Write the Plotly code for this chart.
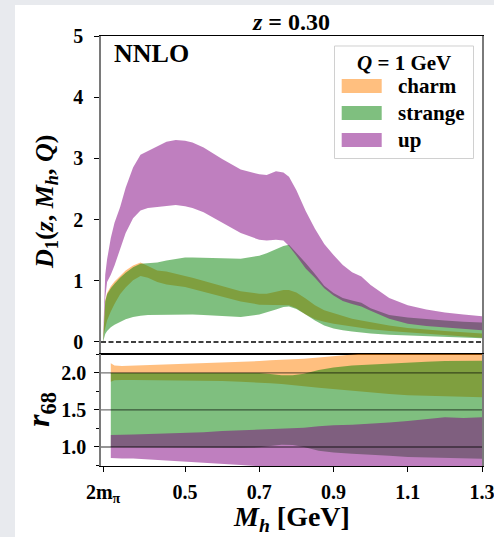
import plotly.graph_objects as go

# ---------------- D1(z, Mh, Q) at z = 0.30, Q = 1 GeV : 68% bands ----------------
mh = [0.279, 0.282, 0.285, 0.29, 0.30, 0.31, 0.325, 0.34, 0.36, 0.38, 0.40, 0.425,
      0.45, 0.475, 0.50, 0.52, 0.55, 0.60, 0.65, 0.70, 0.72, 0.745, 0.765, 0.78,
      0.80, 0.825, 0.85, 0.875, 0.90, 0.925, 0.95, 0.975, 1.00, 1.05, 1.10, 1.15,
      1.20, 1.25, 1.30]

charm_hi = [0.0, 0.47, 0.68, 0.80, 0.91, 0.99, 1.08, 1.17, 1.25, 1.30, 1.24, 1.17,
            1.15, 1.12, 1.08, 1.05, 1.00, 0.91, 0.83, 0.79, 0.79, 0.82, 0.85, 0.85,
            0.81, 0.71, 0.60, 0.52, 0.47, 0.42, 0.38, 0.35, 0.32, 0.27, 0.23, 0.20,
            0.18, 0.16, 0.14]
charm_lo = [0.0, 0.15, 0.25, 0.35, 0.50, 0.62, 0.78, 0.89, 1.01, 1.08, 1.05, 0.98,
            0.94, 0.92, 0.90, 0.87, 0.82, 0.74, 0.66, 0.61, 0.60, 0.60, 0.60, 0.60,
            0.55, 0.45, 0.37, 0.33, 0.30, 0.27, 0.25, 0.23, 0.21, 0.18, 0.15, 0.13,
            0.11, 0.09, 0.07]

strange_hi = [0.0, 0.45, 0.66, 0.78, 0.88, 0.95, 1.05, 1.13, 1.22, 1.28, 1.29, 1.30,
              1.33, 1.36, 1.38, 1.38, 1.38, 1.37, 1.36, 1.41, 1.45, 1.52, 1.57, 1.59,
              1.46, 1.29, 1.11, 0.92, 0.80, 0.72, 0.68, 0.64, 0.55, 0.44, 0.40, 0.37,
              0.35, 0.33, 0.32]
strange_lo = [0.0, 0.08, 0.13, 0.18, 0.24, 0.28, 0.33, 0.37, 0.41, 0.43, 0.44, 0.445,
              0.45, 0.45, 0.45, 0.45, 0.44, 0.42, 0.41, 0.45, 0.48, 0.53, 0.57, 0.58,
              0.54, 0.45, 0.35, 0.27, 0.22, 0.19, 0.17, 0.15, 0.14, 0.12, 0.10, 0.09,
              0.08, 0.07, 0.06]

up_hi = [0.0, 0.75, 1.10, 1.35, 1.70, 1.95, 2.20, 2.52, 2.85, 3.06, 3.12, 3.19,
         3.27, 3.30, 3.29, 3.26, 3.18, 2.99, 2.82, 2.74, 2.73, 2.79, 2.77, 2.70,
         2.48, 2.14, 1.85, 1.60, 1.42, 1.26, 1.14, 1.07, 0.93, 0.72, 0.60, 0.53,
         0.48, 0.45, 0.42]
up_lo = [0.0, 0.40, 0.72, 0.98, 1.10, 1.25, 1.50, 1.78, 2.02, 2.15, 2.19, 2.20,
         2.22, 2.24, 2.22, 2.19, 2.12, 1.95, 1.78, 1.67, 1.66, 1.67, 1.66, 1.57,
         1.41, 1.20, 1.05, 0.88, 0.76, 0.67, 0.62, 0.58, 0.51, 0.38, 0.30, 0.26,
         0.23, 0.21, 0.19]

# ---------------- r68 : relative width of the 68% bands ----------------
mh_r = [0.30, 0.31, 0.33, 0.36, 0.40, 0.45, 0.50, 0.55, 0.60, 0.65, 0.70, 0.73, 0.76,
        0.79, 0.82, 0.86, 0.90, 0.95, 1.00, 1.05, 1.10, 1.15, 1.20, 1.25, 1.30]

charm_r_hi = [2.13, 2.10, 2.095, 2.10, 2.10, 2.11, 2.12, 2.13, 2.14, 2.15, 2.16, 2.17,
              2.175, 2.18, 2.19, 2.21, 2.23, 2.25, 2.27, 2.29, 2.30, 2.30, 2.30, 2.30, 2.30]
charm_r_lo = [1.88, 1.90, 1.905, 1.905, 1.905, 1.905, 1.90, 1.895, 1.89, 1.88, 1.87, 1.86,
              1.85, 1.84, 1.82, 1.80, 1.78, 1.755, 1.735, 1.715, 1.70, 1.69, 1.685, 1.675, 1.67]
strange_r_hi = [2.0, 2.0, 2.0, 2.0, 2.0, 2.005, 2.01, 2.01, 2.01, 2.01, 2.0, 1.985,
                1.97, 1.97, 1.99, 2.04, 2.075, 2.10, 2.115, 2.13, 2.14, 2.15, 2.16, 2.165, 2.165]
strange_r_lo = [1.0, 1.0, 1.0, 1.0, 1.0, 1.0, 0.995, 0.99, 0.99, 0.99, 0.995, 1.01,
                1.03, 1.025, 1.0, 0.95, 0.925, 0.91, 0.90, 0.88, 0.865, 0.855, 0.85, 0.845, 0.84]
up_r_hi = [1.16, 1.165, 1.165, 1.17, 1.175, 1.185, 1.19, 1.20, 1.215, 1.225, 1.24, 1.245,
           1.25, 1.255, 1.26, 1.28, 1.295, 1.30, 1.31, 1.33, 1.35, 1.37, 1.40, 1.39, 1.40]
up_r_lo = [0.85, 0.85, 0.845, 0.845, 0.84, 0.82, 0.80, 0.79, 0.77, 0.755, 0.74, 0.73,
           0.73, 0.73, 0.73, 0.73, 0.73, 0.73, 0.73, 0.73, 0.73, 0.73, 0.73, 0.73, 0.73]

flavours = ["charm", "strange", "up"]
colors = {"charm": "rgba(255,128,0,0.5)",
          "strange": "rgba(0,128,0,0.5)",
          "up": "rgba(128,0,128,0.5)"}

x_tickvals = [0.2792, 0.5, 0.7, 0.9, 1.1, 1.3]
x_ticktext = ["2m<sub>π</sub>", "0.5", "0.7", "0.9", "1.1", "1.3"]
y_tickvals = [0, 1, 2, 3, 4, 5]
r_tickvals = [1.0, 1.5, 2.0]
r_ticktext = ["1.0", "1.5", "2.0"]

top_bands = {"charm": (charm_lo, charm_hi),
             "strange": (strange_lo, strange_hi),
             "up": (up_lo, up_hi)}
ratio_bands = {"charm": (charm_r_lo, charm_r_hi),
               "strange": (strange_r_lo, strange_r_hi),
               "up": (up_r_lo, up_r_hi)}

FONT = "Liberation Serif"
fig = go.Figure()


def band(x, lo, hi, color, xa, ya, name):
    return go.Scatter(x=list(x) + list(x)[::-1], y=list(hi) + list(lo)[::-1],
                      fill="toself", fillcolor=color, mode="lines",
                      line=dict(width=0, color=color), hoverinfo="skip",
                      showlegend=False, name=name, xaxis=xa, yaxis=ya)


for f in flavours:
    lo, hi = top_bands[f]
    fig.add_trace(band(mh, lo, hi, colors[f], "x", "y", f))
for f in flavours:
    lo, hi = ratio_bands[f]
    fig.add_trace(band(mh_r, lo, hi, colors[f], "x2", "y2", f))

XR = [0.2736, 1.3]
split = 0.2605
tickfont = dict(family=FONT, size=20, color="black", weight="bold")

fig.update_layout(
    width=494, height=537,
    margin=dict(l=101, r=12, t=36, b=71, pad=0, autoexpand=False),
    paper_bgcolor="#e8eaee", plot_bgcolor="white",
    font=dict(family=FONT, color="black", weight="bold"),
    showlegend=False,
    title=dict(text="<i>z</i> = 0.30", x=0.5, xref="paper", xanchor="center",
               y=1 - 22 / 537, yref="container", yanchor="middle",
               font=dict(family=FONT, size=24, color="black", weight="bold")),
    xaxis=dict(domain=[0, 1], anchor="y", range=XR, showticklabels=False, ticks="",
               showline=True, mirror=True, linecolor="black", linewidth=1.2,
               showgrid=False, zeroline=False, automargin=False),
    yaxis=dict(domain=[split, 1], anchor="x", range=[-0.196, 5], tickvals=y_tickvals,
               ticks="outside", ticklen=5, tickwidth=1.3, tickcolor="black",
               ticklabelstandoff=7, tickfont=tickfont, automargin=False,
               ticklabeloverflow="allow",
               showline=True, mirror=True, linecolor="#7a7a7a", linewidth=1.6,
               showgrid=False, zeroline=False),
    xaxis2=dict(domain=[0, 1], anchor="y2", range=XR, tickvals=x_tickvals,
                ticktext=x_ticktext, ticks="outside", ticklen=5, tickwidth=1.3,
                tickcolor="black", ticklabelstandoff=3, tickfont=tickfont,
                ticklabeloverflow="allow",
                showline=True, mirror=True, linecolor="black", linewidth=1.2,
                showgrid=False, zeroline=False, automargin=False),
    yaxis2=dict(domain=[0, split], anchor="x2", range=[0.743, 2.256],
                tickvals=r_tickvals, ticktext=r_ticktext, ticks="outside",
                ticklen=5, tickwidth=1.3, tickcolor="black", ticklabelstandoff=4,
                tickfont=tickfont, automargin=False, ticklabeloverflow="allow",
                minor=dict(tickvals=[0.75, 1.25, 1.75, 2.25], ticks="outside",
                           ticklen=3, tickwidth=1, tickcolor="black"),
                showline=True, mirror=True, linecolor="#7a7a7a", linewidth=1.6,
                showgrid=False, zeroline=False),
)

shapes = []
# white card behind the figure
shapes.append(dict(type="rect", xref="paper", yref="paper",
                   x0=(15 - 101) / 381, x1=(494 - 101) / 381,
                   y0=(466 - 537) / 430, y1=(466 - 5) / 430,
                   fillcolor="white", line=dict(width=0), layer="below"))
# zero reference in the upper panel
shapes.append(dict(type="line", xref="x domain", yref="y", x0=0, x1=1, y0=0, y1=0,
                   line=dict(color="black", width=1.3, dash="5px,2.5px"), layer="above"))
# horizontal guides in the r68 panel
for v in r_tickvals:
    shapes.append(dict(type="line", xref="x2 domain", yref="y2", x0=0, x1=1, y0=v, y1=v,
                       line=dict(color="rgba(0,0,0,0.55)", width=1.3), layer="above"))


# pixel helpers for the upper panel (plot area spans x 101..482, upper panel y 36..354)
def dx(px):
    return (px - 101) / 381


def dy(py):
    return (354 - py) / 318


# legend frame and colour patches
shapes.append(dict(type="rect", xref="x domain", yref="y domain",
                   x0=dx(334.5), x1=dx(473.5), y0=dy(158.5), y1=dy(46),
                   fillcolor="white", line=dict(color="#d0d0d0", width=1), layer="above"))
patch_rows = [86, 113, 140]
for f, yc in zip(flavours, patch_rows):
    shapes.append(dict(type="rect", xref="x domain", yref="y domain",
                       x0=dx(341.7), x1=dx(381.7), y0=dy(yc + 7), y1=dy(yc - 7),
                       fillcolor=colors[f], line=dict(width=0), layer="above"))
fig.update_layout(shapes=shapes)

annotations = [
    dict(text="NNLO", xref="x domain", yref="y domain", x=dx(112), y=dy(54),
         xanchor="left", yanchor="middle", showarrow=False,
         font=dict(family=FONT, size=26, weight="bold")),
    dict(text="<i>Q</i> = 1 GeV", xref="x domain", yref="y domain", x=dx(403.5), y=dy(63),
         xanchor="center", yanchor="middle", showarrow=False,
         font=dict(family=FONT, size=21, weight="bold")),
    # axis titles
    dict(text="<i>D</i><sub>1</sub>(<i>z</i>, <i>M</i><sub><i>h</i></sub>, <i>Q</i>)",
         xref="paper", yref="y domain", x=(46 - 101) / 381, y=dy(202),
         xanchor="center", yanchor="middle", textangle=-90, showarrow=False,
         font=dict(family=FONT, size=26, weight="bold")),
    dict(text="<i>r</i><sub>68</sub>",
         xref="paper", yref="y2 domain", x=(41 - 101) / 381, y=0.5,
         xanchor="center", yanchor="middle", textangle=-90, showarrow=False,
         font=dict(family=FONT, size=32, weight="bold")),
    dict(text="<i>M</i><sub><i>h</i></sub> [GeV]",
         xref="paper", yref="paper", x=0.5, y=(466 - 518) / 430,
         xanchor="center", yanchor="middle", showarrow=False,
         font=dict(family=FONT, size=28, weight="bold")),
]
for f, yc in zip(flavours, patch_rows):
    annotations.append(dict(text=f, xref="x domain", yref="y domain", x=dx(396), y=dy(yc),
                            xanchor="left", yanchor="middle", showarrow=False,
                            font=dict(family=FONT, size=21, weight="bold")))
fig.update_layout(annotations=annotations)

fig.write_html("out.html", post_script="document.body.style.margin='0';")
